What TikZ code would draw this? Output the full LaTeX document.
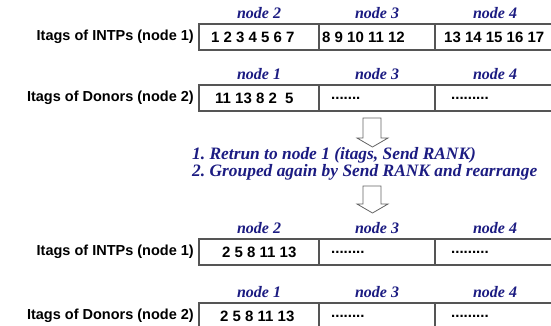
\documentclass[tikz,border=0pt]{standalone}
\usepackage{fontspec}
\setmainfont{Liberation Serif}
\setsansfont{Liberation Sans}
\usetikzlibrary{positioning}
\definecolor{tagblue}{RGB}{28,28,130}
\definecolor{boxgray}{RGB}{85,85,85}
\definecolor{arrowgray}{RGB}{100,100,100}
\frenchspacing

\begin{document}
\begin{tikzpicture}[x=1pt, y=-1pt,
    cell/.style={draw=boxgray, line width=1.2pt, minimum width=#1, minimum height=26pt, inner sep=0pt, outer sep=0pt},
    cell/.default=120pt,
    rowlabel/.style={font=\sffamily\bfseries\fontsize{14.5}{17}\selectfont, inner sep=0pt},
    celltext/.style={font=\sffamily\bfseries\fontsize{15}{18}\selectfont, inner sep=0pt, anchor=west},
    nodehead/.style={font=\rmfamily\bfseries\itshape\fontsize{16}{18}\selectfont, text=tagblue, inner sep=0pt, anchor=base},
    steptext/.style={font=\rmfamily\bfseries\itshape\fontsize{17.4}{16.5}\selectfont, text=tagblue, inner sep=0pt, anchor=west, align=left},
    blockarrow/.style={draw=arrowgray, line width=0.8pt, fill=white}]
    \useasboundingbox (0,0) rectangle (551,325);
    \clip (0,0) rectangle (551,325);

    % first table: INTPs
    \node[cell] (r1c1) at (259, 37) {};
    \node[cell=116pt] (r1c2) at (377, 37) {};
    \node[cell] (r1c3) at (495, 37) {};
    \node[rowlabel, left=5pt of r1c1] (l1) {Itags of INTPs (node 1)};
    \node[nodehead] (h11) at ([yshift=6pt]r1c1.north) {node 2};
    \node[nodehead] (h12) at ([yshift=6pt]r1c2.north) {node 3};
    \node[nodehead] (h13) at ([yshift=6pt]r1c3.north) {node 4};
    \node[celltext] (t11) at ([xshift=12pt]r1c1.west) {1 2 3 4 5 6 7};
    \node[celltext] (t12) at ([xshift=3pt]r1c2.west)  {8 9 10 11 12};
    \node[celltext] (t13) at ([xshift=9pt]r1c3.west)  {13 14 15 16 17};

    % Donors
    \node[cell] (r2c1) at (259, 98) {};
    \node[cell=116pt] (r2c2) at (377, 98) {};
    \node[cell] (r2c3) at (495, 98) {};
    \node[rowlabel, left=5pt of r2c1] (l2) {Itags of Donors (node 2)};
    \node[nodehead] (h21) at ([yshift=6pt]r2c1.north) {node 1};
    \node[nodehead] (h22) at ([yshift=6pt]r2c2.north) {node 3};
    \node[nodehead] (h23) at ([yshift=6pt]r2c3.north) {node 4};
    \node[celltext] (t21) at ([xshift=16pt]r2c1.west) {11 13 8 2\ \ 5};
    \node[celltext] (t22) at ([xshift=12pt]r2c2.west) {.......};
    \node[celltext] (t23) at ([xshift=16pt]r2c3.west) {.........};

    % steps
    \draw[blockarrow] (363,118) -- (381,118) -- (381,138) -- (388,138) -- (372.5,147) -- (357,138) -- (363,138) -- cycle;
    \node[steptext] (steps) at (192, 164) {1. Retrun to node 1 (itags, Send RANK)\\2. Grouped again by Send RANK and rearrange};
    \draw[blockarrow] (363,186) -- (381,186) -- (381,204) -- (388,204) -- (372.5,213) -- (357,204) -- (363,204) -- cycle;

    % after regrouping
    \node[cell] (r3c1) at (259, 252) {};
    \node[cell=116pt] (r3c2) at (377, 252) {};
    \node[cell] (r3c3) at (495, 252) {};
    \node[rowlabel, left=5pt of r3c1] (l3) {Itags of INTPs (node 1)};
    \node[nodehead] (h31) at ([yshift=6pt]r3c1.north) {node 2};
    \node[nodehead] (h32) at ([yshift=6pt]r3c2.north) {node 3};
    \node[nodehead] (h33) at ([yshift=6pt]r3c3.north) {node 4};
    \node[celltext] (t31) at ([xshift=23pt]r3c1.west) {2 5 8 11 13};
    \node[celltext] (t32) at ([xshift=12pt]r3c2.west) {........};
    \node[celltext] (t33) at ([xshift=16pt]r3c3.west) {.........};

    \node[cell] (r4c1) at (259, 316) {};
    \node[cell=116pt] (r4c2) at (377, 316) {};
    \node[cell] (r4c3) at (495, 316) {};
    \node[rowlabel, left=5pt of r4c1] (l4) {Itags of Donors (node 2)};
    \node[nodehead] (h41) at ([yshift=6pt]r4c1.north) {node 1};
    \node[nodehead] (h42) at ([yshift=6pt]r4c2.north) {node 3};
    \node[nodehead] (h43) at ([yshift=6pt]r4c3.north) {node 4};
    \node[celltext] (t41) at ([xshift=21pt]r4c1.west) {2 5 8 11 13};
    \node[celltext] (t42) at ([xshift=12pt]r4c2.west) {........};
    \node[celltext] (t43) at ([xshift=16pt]r4c3.west) {.........};
\end{tikzpicture}
\end{document}
